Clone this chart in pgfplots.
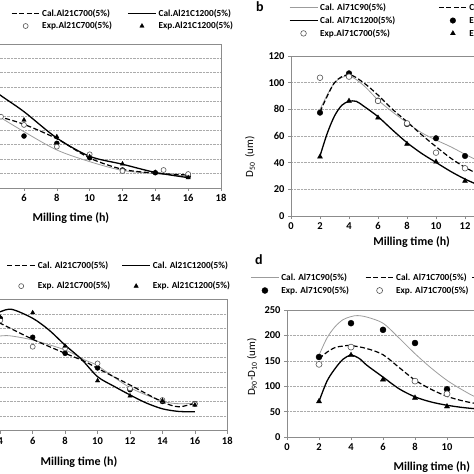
\documentclass[border=0pt]{standalone}
\usepackage{pgfplots}
\pgfplotsset{compat=1.18}
\usepackage{fontspec}
\setmainfont{Carlito}
\definecolor{gline}{HTML}{9C9C9C}
\definecolor{frame}{HTML}{8C8C8C}
\definecolor{gridc}{HTML}{ABABAB}
\definecolor{ocirc}{HTML}{555555}
\newcommand{\legfont}{\bfseries\fontsize{9.25}{11}\selectfont}
\newcommand{\tickfont}{\bfseries\fontsize{10.5}{12}\selectfont}
\newcommand{\labfont}{\bfseries\fontsize{12}{14}\selectfont}
\newcommand{\ylabfont}{\fontsize{11}{13}\selectfont}
\pgfplotsset{
  panel/.style={
    scale only axis,
    axis line style={frame, line width=0.9pt},
    ymajorgrids,
    major grid style={gridc, densely dotted, line width=0.6pt},
    tick style={frame, line width=0.6pt},
    tick align=outside,
    major tick length=3pt,
    xtick pos=bottom, ytick pos=left,
    /pgf/number format/assume math mode=true,
    ticklabel style={font=\tickfont},
    legend cell align=left,
    legend image code/.code={\draw[mark repeat=2,mark phase=2,##1] plot coordinates {(0pt,0pt) (14pt,0pt) (28pt,0pt)};},
    every axis x label/.style={font=\labfont, anchor=center},
    every axis y label/.style={font=\ylabfont, rotate=90, anchor=center},
  },
  c90/.style={gline, line width=0.8pt, smooth, no marks},
  c700/.style={black, line width=1.2pt, dash pattern=on 5pt off 2.5pt, smooth, no marks},
  c1200/.style={black, line width=1.3pt, smooth, no marks},
  e90/.style={only marks, mark=*, mark options={fill=black, draw=black, solid}},
  e700/.style={only marks, mark=*, mark options={fill=white, draw=ocirc, line width=0.6pt, solid}},
  e1200/.style={only marks, mark=triangle*, mark options={fill=black, draw=black, solid}},
}
\begin{document}
\begin{tikzpicture}
\path[use as bounding box, clip] (0pt,0pt) rectangle (474pt,474pt);

% ---------------- panel a ----------------
\begin{axis}[panel, at={(-74.5pt,286pt)}, anchor=south west, width=295.5pt, height=144pt,
  xmin=0, xmax=18, ymin=0, ymax=10, xtick={0,2,...,18}, ytick={0,1,...,10}, yticklabels={},
  xlabel={Milling time (h)}, xlabel style={at={(axis description cs:0.492,-0.208)}},
  mark size=2.5pt, legend columns=3,
  legend style={draw=none, fill=none, font=\legfont, inner sep=0pt,
    at={(axis description cs:1.048,1.255)}, anchor=north east,
    /tikz/every even column/.append style={column sep=13.4pt}},
]
\addplot[c90] coordinates {(3.5,5.6) (4,5.25) (4.54,4.91) (6,3.91) (8,2.64) (10,1.83) (12,1.22) (14,1.0) (16,0.83)};
\addlegendentry{Cal.Al21C90(5\%)}
\addplot[c700] coordinates {(3.5,5.1) (4,5.02) (4.54,4.93) (6,4.42) (8,3.42) (10,2.08) (12,1.3) (14,1.03) (16,0.9)};
\addlegendentry{Cal.Al21C700(5\%)}
\addplot[c1200] coordinates {(3.5,7.3) (4,7.0) (4.54,6.46) (6,5.30) (8,3.47) (10,2.2) (12,1.65) (14,1.08) (16,0.72)};
\addlegendentry{Cal.Al21C1200(5\%)}
\addplot[e90] coordinates {(6,3.61) (8,3.1) (10,2.1) (12,1.25) (14,1.06) (16,0.8)};
\addlegendentry{Exp.Al21C90(5\%)}
\addplot[e700] coordinates {(4.6,4.95) (6,4.38) (8,2.87) (10,2.34) (12,1.18) (14.5,1.25) (16,0.97)};
\addlegendentry{Exp.Al21C700(5\%)}
\addplot[e1200] coordinates {(6,4.72) (8,3.56) (10,2.17) (12,1.67) (14,1.09) (16,0.72)};
\addlegendentry{Exp.Al21C1200(5\%)}
\end{axis}

% ---------------- panel b ----------------
\begin{axis}[panel, at={(291pt,258pt)}, anchor=south west, width=232pt, height=160pt,
  xmin=0, xmax=16, ymin=0, ymax=120, xtick={0,2,...,16}, ytick={0,20,...,120},
  xlabel={Milling time (h)}, xlabel style={at={(axis description cs:0.52,-0.1625)}},
  ylabel={D\textsubscript{50}\ \ (um)}, ylabel style={at={(axis description cs:-0.177,0.37)}},
  mark size=2.8pt, legend columns=2,
  legend style={draw=none, fill=none, font=\legfont, inner sep=0pt, row sep=0.5pt,
    at={(axis description cs:-0.0099,1.342)}, anchor=north west,
    /tikz/every even column/.append style={column sep=41pt}},
]
\addplot[c90] coordinates {(2,80) (3,100) (4,105) (5,98) (6,87) (7,78) (8,70) (9,62.5) (10,57) (11,52) (12,46.3) (13,41) (14,36) (16,30)};
\addlegendentry{Cal. Al71C90(5\%)}
\addplot[c700] coordinates {(2,78) (3,100) (4,106) (5,100) (6,90.7) (7,80) (8,70.7) (9,61) (10,52) (11,43.5) (12,36.5) (13,31) (14,27) (16,22)};
\addlegendentry{Cal. Al71C700(5\%)}
\addplot[c1200] coordinates {(2,45) (2.5,62) (3,75) (3.5,83) (4,86) (4.5,86) (5,82.5) (6,74.5) (7,64.5) (8,55) (9,47) (10,40.2) (11,33.5) (12,27.7) (13,23) (14,20) (16,16)};
\addlegendentry{Cal. Al71C1200(5\%)}
\addplot[e90] coordinates {(2,77.5) (4,107) (6,86.5) (8,69) (10,58.3) (12,45) (14,35) (16,30)};
\addlegendentry{Exp.Al71C90(5\%)}
\addplot[e700] coordinates {(2,103.7) (4,104.5) (6,86.3) (8,69.5) (10,47.5) (12,35.8) (14,28) (16,24)};
\addlegendentry{Exp.Al71C700(5\%)}
\addplot[e1200] coordinates {(2,44.5) (4,86.3) (6,73.7) (8,54) (10,40.7) (12,26.3) (14,20) (16,17)};
\addlegendentry{Exp.Al71C1200(5\%)}
\end{axis}

% ---------------- panel c ----------------
\begin{axis}[panel, at={(-64.6pt,43.3pt)}, anchor=south west, width=291.9pt, height=131.4pt,
  xmin=0, xmax=18, ymin=0, ymax=9, xtick={0,2,...,18}, ytick={0,1,...,9}, yticklabels={},
  xlabel={Milling time (h)}, xlabel style={at={(axis description cs:0.492,-0.236)}},
  mark size=2.5pt, legend columns=3,
  legend style={draw=none, fill=none, font=\legfont, inner sep=0pt, row sep=8pt,
    at={(axis description cs:1.0164,1.304)}, anchor=north east,
    /tikz/every even column/.append style={column sep=9.3pt}},
]
\addplot[c90] coordinates {(3.5,6.49) (4,6.49) (4.6,6.5) (6,6.21) (8,5.53) (9.2,4.85) (10,4.45) (12,2.95) (14,2.03) (15,1.85) (16,1.88)};
\addlegendentry{Cal. Al21C90(5\%)}
\addplot[c700] coordinates {(3.5,7.6) (4,7.36) (6,6.26) (8,5.3) (9.2,4.75) (10,4.27) (12,3.13) (14,1.97) (15,1.64) (16,1.88)};
\addlegendentry{Cal. Al21C700(5\%)}
\addplot[c1200] coordinates {(3.5,7.9) (4,8.15) (4.72,8.31) (6,7.7) (7,6.9) (8,5.86) (9,4.9) (10,3.7) (11,3.05) (12,2.45) (13,1.9) (14,1.5) (15,1.32) (16,1.3)};
\addlegendentry{Cal. Al21C1200(5\%)}
\addplot[e90] coordinates {(4,7.7) (6,6.4) (8,5.3) (10,4.3) (12,2.81) (14,2.0) (16,1.85)};
\addlegendentry{Exp. Al21C90(5\%)}
\addplot[e700] coordinates {(4,7.56) (6,5.75) (8,5.64) (10,4.61) (12,2.9) (14,2.1) (16,1.83)};
\addlegendentry{Exp. Al21C700(5\%)}
\addplot[e1200] coordinates {(4,7.77) (6,8.08) (8,5.8) (10,3.42) (12,2.38) (14,2.05) (16,1.76)};
\addlegendentry{Exp. Al21C1200(5\%)}
\end{axis}

% ---------------- panel d ----------------
\begin{axis}[panel, at={(287pt,37pt)}, anchor=south west, width=288pt, height=127pt,
  xmin=0, xmax=18, ymin=0, ymax=250, xtick={0,2,...,18}, ytick={0,50,...,250},
  xlabel={Milling time (h)}, xlabel style={at={(axis description cs:0.503,-0.236)}},
  ylabel={D\textsubscript{90}-D\textsubscript{10} (um)}, ylabel style={at={(axis description cs:-0.1215,0.55)}},
  mark size=3pt, legend columns=3,
  legend style={draw=none, fill=none, font=\legfont, inner sep=0pt, row sep=0.5pt,
    at={(axis description cs:-0.1274,1.305)}, anchor=north west,
    /tikz/column 2/.append style={column sep=14pt},
    /tikz/column 4/.append style={column sep=1pt}},
]
\addplot[c90] coordinates {(2,161) (2.5,195) (3,217) (3.5,231) (4,237) (4.4,239) (5,236) (6,224) (7,195) (8,164) (9,136) (10,111.5) (11,92) (12,76) (14,57) (16,48) (18,45)};
\addlegendentry{Cal. Al71C90(5\%)}
\addplot[c700] coordinates {(2,154) (2.5,167) (3,176) (3.5,179) (4,180) (5,174) (6,162) (7,137) (8,112) (9,94) (10,80) (11,71) (12,65) (14,57) (16,52)};
\addlegendentry{Cal. Al71C700(5\%)}
\addplot[c1200] coordinates {(2,70) (2.5,110) (3,134.5) (3.5,153) (4,161) (4.5,155) (5,141) (6,118) (7,95) (8,79) (9,69) (10,62.5) (11,58) (12,55) (14,50) (16,47)};
\addlegendentry{Cal. Al71C1200(5\%)}
\addplot[e90] coordinates {(2,157.5) (4,224) (6,211) (8,185) (10,94) (12,70) (14,55) (16,48)};
\addlegendentry{Exp. Al71C90(5\%)}
\addplot[e700] coordinates {(2,143) (4,177) (8,110) (10,85) (12,65) (14,55) (16,50)};
\addlegendentry{Exp. Al71C700(5\%)}
\addplot[e1200] coordinates {(2,70) (4,161) (6,113) (8,77) (10,60) (12,52) (14,48) (16,45)};
\addlegendentry{Exp. Al71C1200(5\%)}
\end{axis}

\node[font=\bfseries\fontsize{14}{16}\selectfont] at (260pt,467pt) {b};
\node[font=\bfseries\fontsize{14}{16}\selectfont] at (259pt,214pt) {d};
\end{tikzpicture}
\end{document}
